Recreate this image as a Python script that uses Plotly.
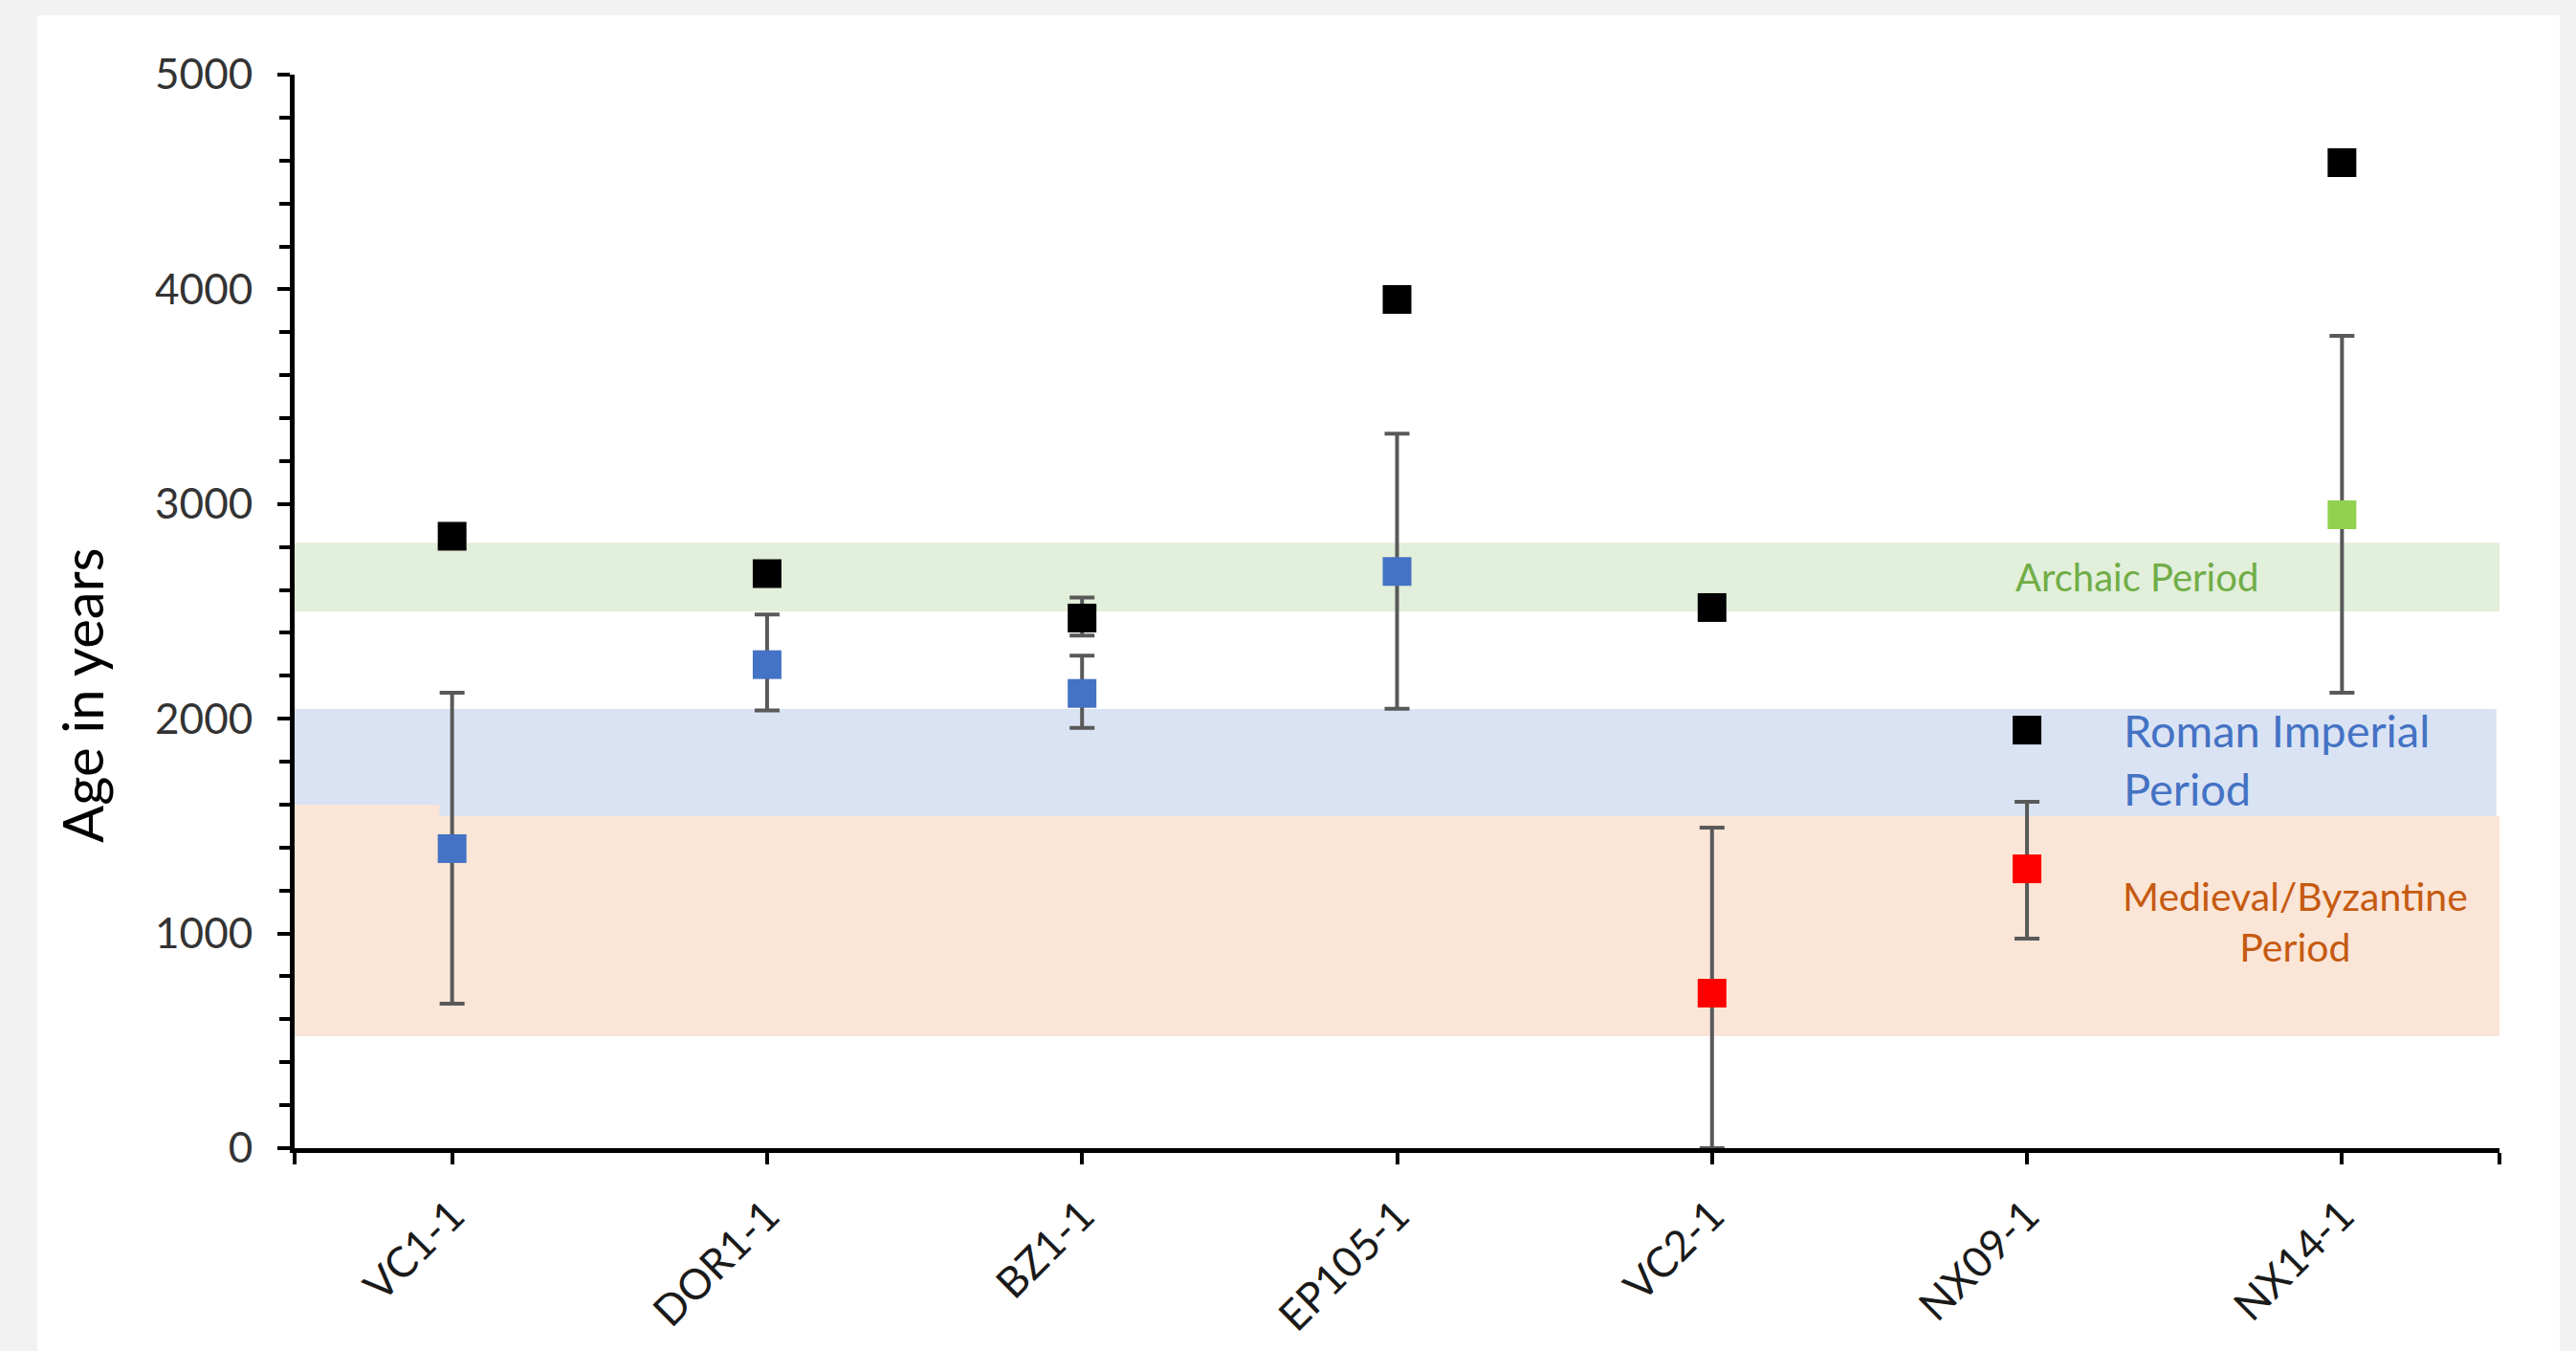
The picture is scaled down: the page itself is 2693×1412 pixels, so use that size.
import plotly.graph_objects as go

# ---------------- data ----------------
samples = ["VC1-1", "DOR1-1", "BZ1-1", "EP105-1", "VC2-1", "NX09-1", "NX14-1"]

# black squares (first age estimate)
black_age = [2850, 2676, 2469, 3953, 2518, 1947, 4590]
black_err_up = [None, None, 96, None, None, None, None]
black_err_down = [None, None, 82, None, None, None, None]

# coloured squares (second age estimate, coloured by period)
period_age = [1395, 2252, 2118, 2686, 722, 1301, 2950]
period_upper = [2121, 2485, 2294, 3328, 1493, 1613, 3783]
period_lower = [673, 2039, 1957, 2047, 0, 976, 2121]
period_color = ["#4472c4", "#4472c4", "#4472c4", "#4472c4", "#ff0000", "#ff0000", "#92d050"]

# period bands (years)
archaic_band = [2500, 2820]
roman_band = [1546, 2045]
medieval_band = [521, 1546]
medieval_step = [1546, 1600]

y_ticks = [0, 1000, 2000, 3000, 4000, 5000]

# ---------------- figure ----------------
W, H = 2693, 1412
L, R, T, B = 308, 80, 78, 212
pw, ph = W - L - R, H - T - B

xs = list(range(len(samples)))

fig = go.Figure()

err_plus = [u - v for u, v in zip(period_upper, period_age)]
err_minus = [v - l for v, l in zip(period_age, period_lower)]

fig.add_trace(go.Scatter(
    x=xs, y=period_age, mode="markers",
    marker=dict(symbol="square", size=30, color=period_color, line=dict(width=0)),
    error_y=dict(type="data", symmetric=False, array=err_plus, arrayminus=err_minus,
                 color="#595959", thickness=4, width=13),
    showlegend=False, hoverinfo="x+y",
))

fig.add_trace(go.Scatter(
    x=xs, y=black_age, mode="markers",
    marker=dict(symbol="square", size=30, color="#000000", line=dict(width=0)),
    error_y=dict(type="data", symmetric=False, array=black_err_up, arrayminus=black_err_down,
                 color="#595959", thickness=4, width=13),
    showlegend=False, hoverinfo="x+y",
))

shapes = []
# white chart panel on grey page
shapes.append(dict(type="rect", xref="paper", yref="paper",
                   x0=(39 - L) / pw, x1=(2676 - L) / pw,
                   y0=-(B + 10) / ph, y1=(H - B - 16) / ph,
                   fillcolor="#ffffff", line=dict(width=0), layer="below"))
# bands
shapes.append(dict(type="rect", xref="x", yref="y", x0=-0.5, x1=6.5,
                   y0=archaic_band[0], y1=archaic_band[1],
                   fillcolor="#e2efda", line=dict(width=0), layer="below"))
shapes.append(dict(type="rect", xref="x", yref="y", x0=-0.5, x1=6.49,
                   y0=roman_band[0], y1=roman_band[1],
                   fillcolor="#dae3f3", line=dict(width=0), layer="below"))
shapes.append(dict(type="rect", xref="x", yref="y", x0=-0.5, x1=6.5,
                   y0=medieval_band[0], y1=medieval_band[1],
                   fillcolor="#fbe5d6", line=dict(width=0), layer="below"))
shapes.append(dict(type="rect", xref="x", yref="y", x0=-0.5, x1=-0.04,
                   y0=medieval_step[0], y1=medieval_step[1],
                   fillcolor="#fbe5d6", line=dict(width=0), layer="below"))

annotations = [
    dict(x=5.35, y=2660, xref="x", yref="y", text="Archaic Period", showarrow=False,
         font=dict(family="Lato", size=40, color="#70ad47"), xanchor="center", yanchor="middle"),
    dict(x=5.30, y=1810, xref="x", yref="y", text="Roman Imperial<br>Period", showarrow=False,
         font=dict(family="Lato", size=47, color="#4472c4"), xanchor="left", yanchor="middle",
         align="left"),
    dict(x=5.853, y=1055, xref="x", yref="y", text="Medieval/Byzantine<br>Period", showarrow=False,
         font=dict(family="Lato", size=41, color="#c55a11"), xanchor="center", yanchor="middle",
         align="center"),
    dict(x=(86 - L) / pw, y=(H - B - 727) / ph, xref="paper", yref="paper",
         text="Age in years", textangle=-90, showarrow=False,
         font=dict(family="Lato", size=58, color="#000000"), xanchor="center", yanchor="middle"),
]

fig.update_layout(
    width=W, height=H,
    margin=dict(l=L, r=R, t=T, b=B, pad=0, autoexpand=False),
    paper_bgcolor="#f2f2f2",
    plot_bgcolor="rgba(0,0,0,0)",
    shapes=shapes,
    annotations=annotations,
    font=dict(family="Lato", color="#262626"),
    showlegend=False,
)

fig.update_xaxes(
    range=[-0.5, 6.5],
    tickmode="array",
    tickvals=[-0.5] + xs + [6.5],
    ticktext=[""] + samples + [""],
    tickangle=-45,
    ticks="outside", ticklen=12, tickwidth=4, tickcolor="#000000",
    showline=True, linewidth=5, linecolor="#000000",
    showgrid=False, zeroline=False,
    tickfont=dict(family="Lato", size=44, color="#1a1a1a"),
    ticklabelstandoff=10,
    layer="above traces",
    automargin=False,
)

fig.update_yaxes(
    range=[0, 5000],
    tickmode="array", tickvals=y_ticks,
    ticks="outside", ticklen=13, tickwidth=4, tickcolor="#000000",
    minor=dict(dtick=200, ticks="outside", ticklen=11, tickwidth=4, tickcolor="#000000", showgrid=False),
    showline=True, linewidth=5, linecolor="#000000",
    showgrid=False, zeroline=False,
    tickfont=dict(family="Lato", size=44, color="#333333"),
    ticklabelstandoff=17,
    automargin=False,
)

fig.write_html(
    "out.html",
    config={"displayModeBar": False},
    post_script="document.body.style.margin='0';document.body.style.background='#f2f2f2';",
)
